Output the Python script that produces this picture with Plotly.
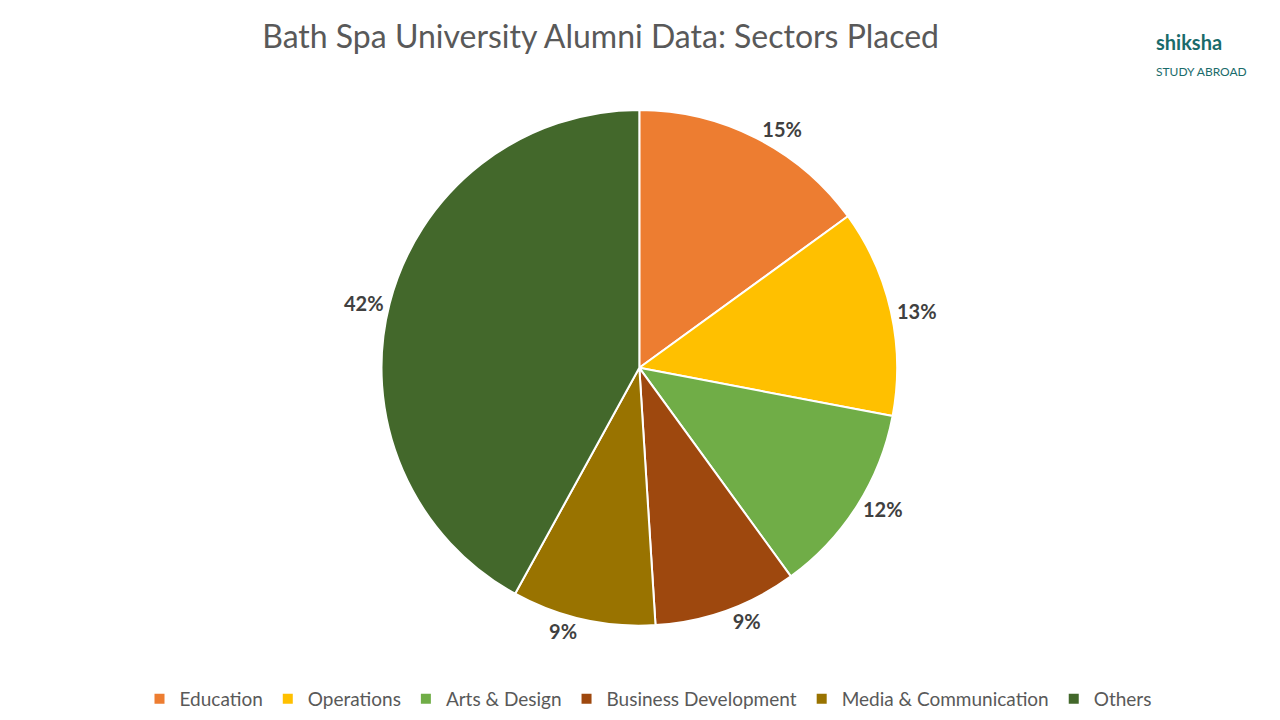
import plotly.graph_objects as go

sectors = ["Education", "Operations", "Arts & Design", "Business Development",
           "Media & Communication", "Others"]
shares = [15, 13, 12, 9, 9, 42]
colors = ["#ED7D31", "#FFC000", "#70AD47", "#9E480E", "#997300", "#43682B"]

fig = go.Figure(go.Pie(
    labels=sectors, values=shares, sort=False, direction="clockwise", rotation=0,
    marker=dict(colors=colors, line=dict(color="white", width=2)),
    texttemplate="<b>%{value}%</b>", textposition="outside",
    textfont=dict(size=20, color="#404040"),
    domain=dict(x=[0.193, 0.793], y=[0.125, 0.88]),
    hoverinfo="label+percent",
))

fig.update_layout(
    width=1280, height=720,
    font=dict(family="Lato, Open Sans, sans-serif"),
    title=dict(text="Bath Spa University Alumni Data: Sectors Placed",
               x=0.463, xanchor="center", y=0.975,
               font=dict(size=32, color="#595959")),
    legend=dict(orientation="h", x=0.5, xanchor="center", y=-0.01, yanchor="bottom",
                font=dict(size=19, color="#595959"), traceorder="normal"),
    margin=dict(l=20, r=20, t=20, b=10),
    paper_bgcolor="white",
    annotations=[dict(text="<b>shiksha</b><br><span style='font-size:12px'>STUDY ABROAD</span>",
                      x=0.985, y=1.0, xref="paper", yref="paper",
                      xanchor="right", yanchor="top", showarrow=False, align="left",
                      font=dict(size=20, color="#1a6b6b"))],
)

fig.write_html("out.html")
